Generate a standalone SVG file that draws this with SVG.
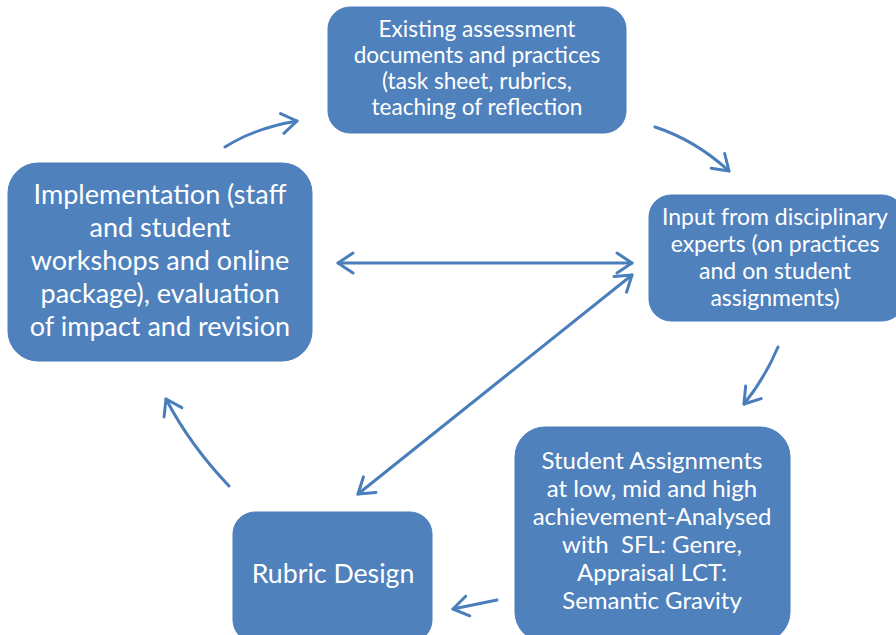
<svg xmlns="http://www.w3.org/2000/svg" width="896" height="635" viewBox="0 0 896 635">
<style>
.box{fill:#4F81BD;stroke:#4A7EBB;stroke-width:1}
.t{fill:#FFFFFF;font-family:Lato,"Liberation Sans",sans-serif;text-anchor:middle}
.c{fill:none;stroke:#4A7EBB;stroke-width:3;stroke-linecap:round}
</style>
<defs>
<marker id="ah" markerUnits="userSpaceOnUse" markerWidth="30" markerHeight="30" refX="0" refY="0" viewBox="-20 -15 30 30" orient="auto-start-reverse" overflow="visible">
<path d="M -15 -10 L 0 0 L -15 10" fill="none" stroke="#4A7EBB" stroke-width="3" stroke-linecap="round" stroke-linejoin="round"/>
</marker>
</defs>
<rect width="896" height="635" fill="#FFFFFF"/>
<g id="connectors">
<path class="c" d="M 225 147 Q 255 128 297 121" marker-end="url(#ah)"/>
<path class="c" d="M 655 127 Q 695 140 729 171" marker-end="url(#ah)"/>
<path class="c" d="M 778 347 Q 765 378 744 404" marker-end="url(#ah)"/>
<path class="c" d="M 497 600 L 453 609" marker-end="url(#ah)"/>
<path class="c" d="M 229 486 Q 190 445 166 399" marker-end="url(#ah)"/>
<path class="c" d="M 338 263 L 632 263" marker-start="url(#ah)" marker-end="url(#ah)"/>
<path class="c" d="M 358 494 L 632 275" marker-start="url(#ah)" marker-end="url(#ah)"/>
</g>
<g id="node-existing">
<rect class="box" x="328" y="7" width="298" height="126" rx="22"/>
<text class="t" font-size="22.6"><tspan x="477" y="37">Existing assessment</tspan><tspan x="477" y="63">documents and practices</tspan><tspan x="477" y="89">(task sheet, rubrics,</tspan><tspan x="477" y="115">teaching of reflection</tspan></text>
</g>
<g id="node-implementation">
<rect class="box" x="8" y="163" width="304" height="198" rx="30"/>
<text class="t" font-size="27"><tspan x="160" y="204">Implementation (staff</tspan><tspan x="160" y="237">and student</tspan><tspan x="160" y="270">workshops and online</tspan><tspan x="160" y="303">package), evaluation</tspan><tspan x="160" y="336">of impact and revision</tspan></text>
</g>
<g id="node-input">
<rect class="box" x="649" y="195" width="255" height="126" rx="22"/>
<text class="t" font-size="23"><tspan x="775" y="225">Input from disciplinary</tspan><tspan x="775" y="252">experts (on practices</tspan><tspan x="775" y="279">and on student</tspan><tspan x="775" y="306">assignments)</tspan></text>
</g>
<g id="node-student">
<rect class="box" x="515" y="427" width="275" height="215" rx="30"/>
<text class="t" font-size="24"><tspan x="652" y="469">Student Assignments</tspan><tspan x="652" y="497">at low, mid and high</tspan><tspan x="652" y="525">achievement-Analysed</tspan><tspan x="652" y="553">with&#160; SFL: Genre,</tspan><tspan x="652" y="581">Appraisal LCT:</tspan><tspan x="652" y="609">Semantic Gravity</tspan></text>
</g>
<g id="node-rubric">
<rect class="box" x="233" y="512" width="199" height="130" rx="22"/>
<text class="t" font-size="26.7" x="333" y="583">Rubric Design</text>
</g>
</svg>
